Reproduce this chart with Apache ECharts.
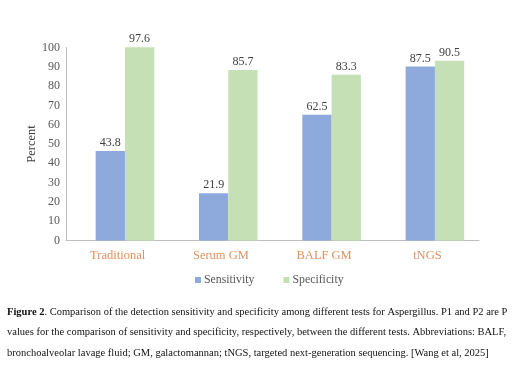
<!DOCTYPE html>
<html>
<head>
<meta charset="utf-8">
<script src="https://cdn.jsdelivr.net/npm/echarts@6/dist/echarts.min.js"></script>
<style>html,body{margin:0;padding:0;background:#fff;}#c{width:523px;height:367px;}</style>
</head>
<body>
<div id="c"></div>
<script>
var categories = ['Traditional', 'Serum GM', 'BALF GM', 'tNGS'];
var sensitivity = [43.8, 21.9, 62.5, 87.5];
var specificity = [97.6, 85.7, 83.3, 90.5];
var seriesNames = ['Sensitivity', 'Specificity'];
var yTicks = [0, 10, 20, 30, 40, 50, 60, 70, 80, 90, 100];
var captionLines = [
  '{b|Figure 2}. Comparison of the detection sensitivity and specificity among different tests for Aspergillus. P1 and P2 are P',
  'values for the comparison of sensitivity and specificity, respectively, between the different tests. Abbreviations: BALF,',
  'bronchoalveolar lavage fluid; GM, galactomannan; tNGS, targeted next-generation sequencing. [Wang et al, 2025]'
];

var serif = '"Liberation Serif", "Times New Roman", serif';
var chart = echarts.init(document.getElementById('c'), null, {renderer: 'canvas'});
var barOffset = 2.6;
var capSize = 10.5;
var option = {
  backgroundColor: '#fff',
  animation: false,
  textStyle: {fontFamily: serif},
  grid: [
    {left: 66, top: 47.5, width: 413, height: 193},
    {left: 73.3, top: 42.5, width: 413.3, height: 198}
  ],
  legend: {
    data: seriesNames,
    left: 190, top: 269,
    icon: 'rect', itemWidth: 6, itemHeight: 6, itemGap: 29,
    textStyle: {fontFamily: serif, fontSize: 11.8, color: '#595959', padding: [0, 0, 0, -2]}
  },
  xAxis: [
    {
      type: 'category', gridIndex: 0, data: categories,
      axisLine: {lineStyle: {color: '#bfbfbf', width: 1}},
      axisTick: {show: false},
      axisLabel: {fontFamily: serif, fontSize: 12.5, color: '#e0915f', margin: 9}
    },
    {
      type: 'category', gridIndex: 1, data: categories,
      show: false
    }
  ],
  yAxis: [
    {
      type: 'value', gridIndex: 0, min: yTicks[0], max: yTicks[yTicks.length - 1], interval: 10,
      name: 'Percent', nameLocation: 'middle', nameGap: 28, nameRotate: 90, nameMoveOverlap: false,
      nameTextStyle: {fontFamily: serif, fontSize: 12.5, color: '#404040'},
      axisLine: {show: true, lineStyle: {color: '#bfbfbf', width: 1}},
      axisTick: {show: false},
      splitLine: {show: false},
      axisLabel: {fontFamily: serif, fontSize: 12, color: '#595959', margin: 6}
    },
    {
      type: 'value', gridIndex: 1, min: -barOffset, max: 100, startValue: -barOffset,
      show: false, splitLine: {show: false}
    }
  ],
  series: [
    {
      name: seriesNames[0], type: 'bar', xAxisIndex: 1, yAxisIndex: 1,
      data: sensitivity, barWidth: 29.3, barGap: '0%',
      itemStyle: {color: '#8eaadc'},
      label: {show: true, position: 'top', distance: 2, fontFamily: serif, fontSize: 12, color: '#404040'}
    },
    {
      name: seriesNames[1], type: 'bar', xAxisIndex: 1, yAxisIndex: 1,
      data: specificity, barWidth: 29.3, barGap: '0%',
      itemStyle: {color: '#c5e0b4'},
      label: {show: true, position: 'top', distance: 2, fontFamily: serif, fontSize: 12, color: '#404040'}
    }
  ],
  graphic: captionLines.map(function (t, i) {
    return {
      type: 'text', left: 7, top: 306.5 + i * 20.7,
      style: {
        text: t, font: capSize + 'px ' + serif, fill: '#111',
        rich: {b: {fontWeight: 'bold', fontFamily: serif, fontSize: capSize, fill: '#111'}}
      }
    };
  })
};
chart.setOption(option);
</script>
</body>
</html>
